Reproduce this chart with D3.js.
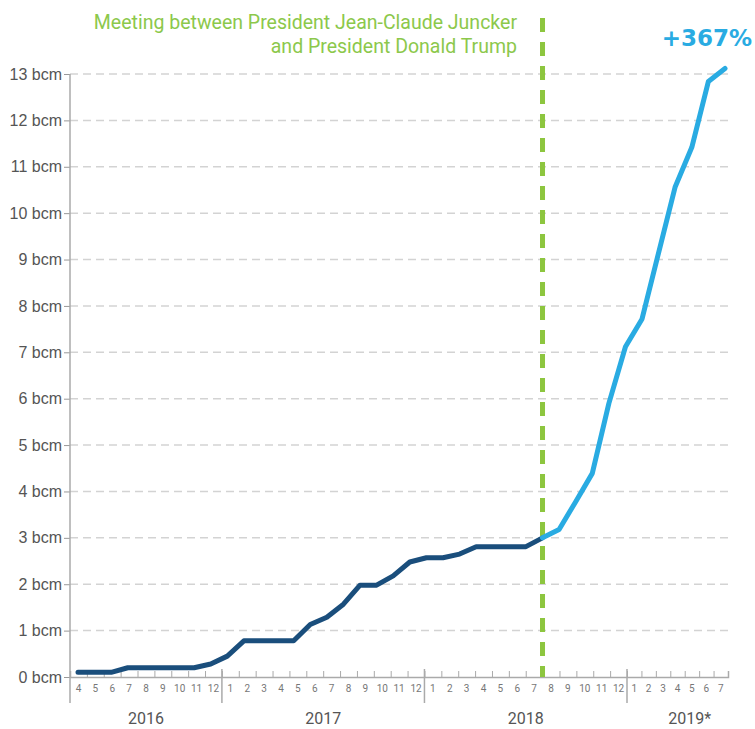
<!DOCTYPE html>
<html>
<head>
<meta charset="utf-8">
<script src="https://cdn.jsdelivr.net/npm/d3@7"></script>
<style>
  body { margin: 0; background: #fff; }
  svg { font-family: Roboto, "Open Sans", sans-serif; }
</style>
</head>
<body>
<div id="chart"></div>
<script>
// monthly LNG imports, cumulative (bcm), Apr 2016 - Jul 2019
var monthLabels = ["4","5","6","7","8","9","10","11","12",
  "1","2","3","4","5","6","7","8","9","10","11","12",
  "1","2","3","4","5","6","7","8","9","10","11","12",
  "1","2","3","4","5","6","7"];
var values = [0.1,0.1,0.1,0.2,0.2,0.2,0.2,0.2,0.28,
  0.45,0.78,0.78,0.78,0.78,1.13,1.29,1.57,1.98,1.98,2.18,2.48,
  2.57,2.57,2.65,2.81,2.81,2.81,2.81,3.0,3.18,3.78,4.39,5.9,
  7.12,7.72,9.15,10.57,11.42,12.84,13.12];
var years = ["2016","2017","2018","2019*"];
var yearStart = [0, 9, 21, 33];
var yearEnd = [9, 21, 33, 41.7]; // last label sits a bit right in the original
var yTicks = d3.range(0, 14);
var meetingIndex = 28; // colour switches here (meeting, July 2018)
var annotation = ["Meeting between President Jean-Claude Juncker", "and President Donald Trump"];
var growthLabel = "+367%";

var width = 755, height = 729;
var svg = d3.select("#chart").append("svg").attr("width", width).attr("height", height);

var y = d3.scaleLinear().domain([0, 13]).range([677, 74]);
// axis months: 2019 months are drawn narrower in the original
var xm = d3.scaleLinear().domain([0, 33, 40]).range([70, 627, 728]);
// line points are evenly spaced
var xp = d3.scaleLinear().domain([0, values.length - 1]).range([78, 725]);

// gridlines
svg.append("g").selectAll("line")
  .data(yTicks.slice(1))
  .enter().append("line")
    .attr("x1", 70).attr("x2", 728)
    .attr("y1", function(d) { return y(d); })
    .attr("y2", function(d) { return y(d); })
    .attr("stroke", "#d3d3d3")
    .attr("stroke-width", 1.5)
    .attr("stroke-dasharray", "8,5");

// y axis
var yAxis = svg.append("g")
  .attr("transform", "translate(70,0)")
  .call(d3.axisLeft(y).tickValues(yTicks).tickFormat(function(d) { return d + " bcm"; })
    .tickSize(6).tickPadding(2));
yAxis.select(".domain").remove();
yAxis.selectAll(".tick line").attr("stroke", "#999");
yAxis.selectAll("text").attr("font-size", "16px").attr("fill", "#555");
yAxis.append("line").attr("x1", 0).attr("x2", 0).attr("y1", y(13)).attr("y2", 703)
  .attr("stroke", "#aaa").attr("stroke-width", 1.5);

// x axis: month ticks upwards
var xAxis = svg.append("g")
  .attr("transform", "translate(0,677)")
  .call(d3.axisBottom(xm).tickValues(d3.range(0, 41)).tickSize(-6).tickFormat(""));
xAxis.select(".domain").attr("stroke", "#aaa").attr("stroke-width", 1.5);
xAxis.selectAll(".tick line").attr("stroke", "#aaa");

svg.append("g").selectAll("text")
  .data(monthLabels)
  .enter().append("text")
    .attr("x", function(d, i) { return xm(i + 0.5); })
    .attr("y", 692)
    .attr("text-anchor", "middle")
    .attr("font-size", "10px")
    .attr("fill", "#777")
    .text(function(d) { return d; });

// year separators
svg.append("g").selectAll("line")
  .data(yearStart.slice(1))
  .enter().append("line")
    .attr("x1", function(d) { return xm(d); })
    .attr("x2", function(d) { return xm(d); })
    .attr("y1", 669).attr("y2", 703)
    .attr("stroke", "#aaa").attr("stroke-width", 1.5);

svg.append("g").selectAll("text")
  .data(years)
  .enter().append("text")
    .attr("x", function(d, i) { return (xm(yearStart[i]) + xm(yearEnd[i])) / 2; })
    .attr("y", 724)
    .attr("text-anchor", "middle")
    .attr("font-size", "16px")
    .attr("fill", "#555")
    .text(function(d) { return d; });

// meeting marker
svg.append("line")
  .attr("x1", xp(meetingIndex)).attr("x2", xp(meetingIndex))
  .attr("y1", 18).attr("y2", 677)
  .attr("stroke", "#8dc63f")
  .attr("stroke-width", 5)
  .attr("stroke-dasharray", "14,10");

svg.append("g").selectAll("text")
  .data(annotation)
  .enter().append("text")
    .attr("x", 517)
    .attr("y", function(d, i) { return 29 + i * 24; })
    .attr("text-anchor", "end")
    .attr("font-size", "19.5px")
    .attr("fill", "#8cc84b")
    .text(function(d) { return d; });

// lines
var line = d3.line()
  .x(function(d) { return xp(d.i); })
  .y(function(d) { return y(d.v); });
var pts = values.map(function(v, i) { return {i: i, v: v}; });

svg.append("path")
  .datum(pts.slice(0, meetingIndex + 1))
  .attr("d", line)
  .attr("fill", "none")
  .attr("stroke", "#1a4e7c")
  .attr("stroke-width", 5)
  .attr("stroke-linejoin", "round")
  .attr("stroke-linecap", "round");

svg.append("path")
  .datum(pts.slice(meetingIndex))
  .attr("d", line)
  .attr("fill", "none")
  .attr("stroke", "#29abe2")
  .attr("stroke-width", 5)
  .attr("stroke-linejoin", "round")
  .attr("stroke-linecap", "round");

svg.append("text")
  .attr("x", 752)
  .attr("y", 46)
  .attr("text-anchor", "end")
  .attr("font-family", "'DejaVu Sans', sans-serif")
  .attr("font-size", "23px")
  .attr("font-weight", "bold")
  .attr("fill", "#29abe2")
  .text(growthLabel);
</script>
</body>
</html>
